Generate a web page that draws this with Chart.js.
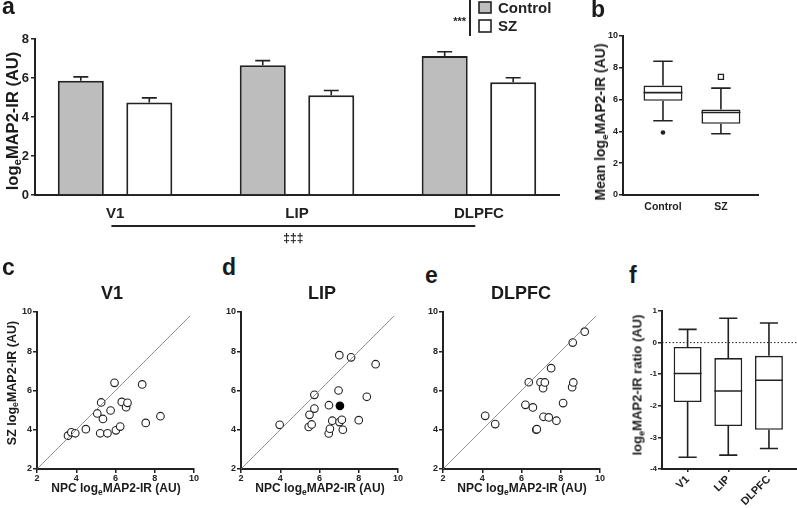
<!DOCTYPE html>
<html>
<head>
<meta charset="utf-8">
<script src="https://cdn.jsdelivr.net/npm/chart.js@4"></script>
<style>
body { margin: 0; background: #fff; }
#fig { position: relative; width: 797px; height: 508px; overflow: hidden; background: #fff;
  font-family: 'Liberation Sans', Arial, sans-serif; font-weight: bold; color: #1a1a1a; }
canvas { position: absolute; }
.t { position: absolute; white-space: nowrap; line-height: 1; transform: translate(-50%, -50%); }
.r { transform: translate(-50%, -50%) rotate(-90deg); }
.l { position: absolute; line-height: 1; font-size: 23px; }
sub { font-size: 70%; vertical-align: -0.3em; line-height: 0; }
</style>
</head>
<body>
<div id="fig">
  <canvas id="chartA"></canvas>
  <canvas id="chartB"></canvas>
  <canvas id="chartC"></canvas>
  <canvas id="chartD"></canvas>
  <canvas id="chartE"></canvas>
  <canvas id="chartF"></canvas>

  <div class="l" style="left:2px;top:-5px">a</div>
  <div class="l" style="left:591px;top:-2px">b</div>
  <div class="l" style="left:2px;top:256px">c</div>
  <div class="l" style="left:222px;top:256px">d</div>
  <div class="l" style="left:425px;top:264px">e</div>
  <div class="l" style="left:629px;top:264px">f</div>

  <div class="t r" style="left:12px;top:121px;font-size:16.5px">log<sub>e</sub>MAP2-IR (AU)</div>
  <div class="t r" style="left:600px;top:122px;font-size:14px">Mean log<sub>e</sub>MAP2-IR (AU)</div>

  <div class="t" style="left:112px;top:293px;font-size:18px">V1</div>
  <div class="t" style="left:322px;top:293px;font-size:18px">LIP</div>
  <div class="t" style="left:521px;top:293px;font-size:18px">DLPFC</div>

  <div class="t r" style="left:12px;top:383px;font-size:12.5px">SZ log<sub>e</sub>MAP2-IR (AU)</div>
  <div class="t" style="left:116px;top:488px;font-size:12px">NPC log<sub>e</sub>MAP2-IR (AU)</div>
  <div class="t" style="left:320px;top:488px;font-size:12px">NPC log<sub>e</sub>MAP2-IR (AU)</div>
  <div class="t" style="left:522px;top:488px;font-size:12px">NPC log<sub>e</sub>MAP2-IR (AU)</div>

  <div class="t r" style="left:637px;top:385px;font-size:13px">log<sub>e</sub>MAP2-IR ratio (AU)</div>
</div>

<script>
'use strict';

// panel a: mean +/- SEM per region
let regions = ['V1', 'LIP', 'DLPFC'];
let controlMean = [5.86, 6.66, 7.13];
let controlSem = [0.20, 0.23, 0.22];
let szMean = [4.75, 5.12, 5.78];
let szSem = [0.23, 0.24, 0.23];
let yTicksA = [0, 2, 4, 6, 8];

// panel b: box plot of mean values
let groupsB = ['Control', 'SZ'];
let bMax = [8.41, 6.72];
let bQ3 = [6.88, 5.38];
let bMed = [6.44, 5.19];
let bQ1 = [5.92, 4.48];
let bMin = [4.67, 3.85];
let bOutlierControl = [3.93];
let bOutlierSz = [7.43];
let yTicksB = [0, 2, 4, 6, 8, 10];

// panels c-e: NPC vs SZ pairs
let v1Npc = [3.58, 3.75, 3.95, 4.49, 5.07, 5.22, 5.27, 5.36, 5.59, 5.75, 5.95, 6.02, 6.24, 6.32, 6.54, 6.61, 7.36, 7.54, 8.29];
let v1Sz = [3.70, 3.87, 3.82, 4.03, 4.83, 3.82, 5.39, 4.55, 3.82, 4.98, 6.39, 3.97, 4.16, 5.42, 5.15, 5.37, 6.31, 4.35, 4.69];
let lipNpc = [3.97, 5.45, 5.49, 5.60, 5.74, 5.74, 6.47, 6.53, 6.48, 6.65, 6.97, 7.01, 7.02, 7.14, 7.19, 7.61, 8.00, 8.41, 8.86];
let lipSz = [4.25, 4.14, 4.76, 4.27, 5.08, 5.78, 3.81, 4.05, 5.25, 4.46, 6.00, 7.80, 4.39, 4.51, 4.00, 7.69, 4.49, 5.68, 7.34];
let lipFilledNpc = [7.04];
let lipFilledSz = [5.22];
let dlpfcNpc = [4.15, 4.66, 6.20, 6.37, 6.58, 6.75, 6.78, 6.97, 7.10, 7.19, 7.12, 7.39, 7.51, 7.78, 8.12, 8.58, 8.64, 8.61, 9.22];
let dlpfcSz = [4.71, 4.29, 5.27, 6.42, 5.14, 4.00, 4.03, 6.42, 6.12, 6.41, 4.66, 4.63, 7.14, 4.46, 5.36, 6.17, 6.41, 8.44, 9.00];
let scatterTicks = [2, 4, 6, 8, 10];
let identityLine = [2, 9.8];

// panel f: SZ/NPC ratio box plots
let fMax = [0.42, 0.77, 0.62];
let fQ3 = [-0.14, -0.49, -0.42];
let fMed = [-0.98, -1.53, -1.19];
let fQ1 = [-1.88, -2.64, -2.76];
let fMin = [-3.63, -3.56, -3.35];
let yTicksF = [1, 0, -1, -2, -3, -4];

const ink = '#222';
Chart.defaults.animation = false;
Chart.defaults.font.family = "'Liberation Sans', Arial, sans-serif";
Chart.defaults.font.weight = 'bold';
Chart.defaults.color = ink;
Chart.defaults.plugins.legend.display = false;
Chart.defaults.plugins.tooltip.enabled = false;

function setup(id, area, m) {
  let cv = document.getElementById(id);
  let w = area.r - area.l + m.l + m.r;
  let h = area.b - area.t + m.t + m.b;
  cv.width = w;
  cv.height = h;
  cv.style.width = w + 'px';
  cv.style.height = h + 'px';
  cv.style.left = (area.l - m.l) + 'px';
  cv.style.top = (area.t - m.t) + 'px';
  return cv;
}

function fixedTicks(list) {
  return function (scale) {
    scale.ticks = list.map(v => ({ value: v }));
  };
}

function axis(extra) {
  return Object.assign({
    border: { color: ink, width: 2 },
    grid: { drawOnChartArea: false, drawTicks: true, tickLength: 4, color: ink, lineWidth: 1.5, offset: false },
    offset: false
  }, extra);
}

function boxWhiskers(maxArr, medArr, minArr, capFrac) {
  return {
    id: 'boxWhiskers',
    afterDatasetsDraw(chart) {
      let ctx = chart.ctx;
      let y = chart.scales.y;
      ctx.save();
      ctx.strokeStyle = ink;
      ctx.lineWidth = 1.6;
      chart.getDatasetMeta(0).data.forEach((box, i) => {
        let half = box.width / 2;
        let cap = half * capFrac;
        let top = Math.min(box.y, box.base);
        let bottom = Math.max(box.y, box.base);
        let yMax = y.getPixelForValue(maxArr[i]);
        let yMin = y.getPixelForValue(minArr[i]);
        let yMed = y.getPixelForValue(medArr[i]);
        ctx.beginPath();
        ctx.moveTo(box.x - half, yMed); ctx.lineTo(box.x + half, yMed);
        ctx.moveTo(box.x, top); ctx.lineTo(box.x, yMax);
        ctx.moveTo(box.x - cap, yMax); ctx.lineTo(box.x + cap, yMax);
        ctx.moveTo(box.x, bottom); ctx.lineTo(box.x, yMin);
        ctx.moveTo(box.x - cap, yMin); ctx.lineTo(box.x + cap, yMin);
        ctx.stroke();
      });
      ctx.restore();
    }
  };
}

// ---------- panel a ----------
let areaA = { l: 35, t: 39, r: 559, b: 195 };
let mA = { l: 35, t: 39, r: 40, b: 55 };
setup('chartA', areaA, mA);

const errorBars = {
  id: 'errorBars',
  afterDatasetsDraw(chart) {
    let ctx = chart.ctx;
    let y = chart.scales.y;
    ctx.save();
    ctx.strokeStyle = ink;
    ctx.lineWidth = 1.6;
    [[controlMean, controlSem], [szMean, szSem]].forEach((pair, d) => {
      chart.getDatasetMeta(d).data.forEach((bar, i) => {
        let top = y.getPixelForValue(pair[0][i] + pair[1][i]);
        ctx.beginPath();
        ctx.moveTo(bar.x, bar.y);
        ctx.lineTo(bar.x, top);
        ctx.moveTo(bar.x - 7.5, top);
        ctx.lineTo(bar.x + 7.5, top);
        ctx.stroke();
      });
    });
    ctx.restore();
  }
};

const legendA = {
  id: 'legendA',
  afterDraw(chart) {
    let ctx = chart.ctx;
    let x = chart.scales.x;
    ctx.save();
    ctx.strokeStyle = ink;
    ctx.fillStyle = ink;
    // significance bracket + legend
    ctx.lineWidth = 2;
    ctx.beginPath(); ctx.moveTo(470, 0); ctx.lineTo(470, 36); ctx.stroke();
    ctx.lineWidth = 1.6;
    ctx.fillStyle = '#bdbdbd';
    ctx.fillRect(479, 2, 12, 11);
    ctx.strokeRect(479, 2, 12, 11);
    ctx.fillStyle = '#fff';
    ctx.fillRect(479, 20, 12, 12);
    ctx.strokeRect(479, 20, 12, 12);
    ctx.fillStyle = ink;
    ctx.font = "bold 15px 'Liberation Sans', Arial, sans-serif";
    ctx.textBaseline = 'middle';
    ctx.textAlign = 'left';
    ctx.fillText('Control', 498, 9);
    ctx.fillText('SZ', 498, 27);
    ctx.font = "bold 11px 'Liberation Sans', Arial, sans-serif";
    ctx.textAlign = 'right';
    ctx.fillText('***', 466, 22);
    // region effect line
    ctx.lineWidth = 2;
    ctx.beginPath();
    ctx.moveTo(x.getPixelForValue(-0.02), 226);
    ctx.lineTo(x.getPixelForValue(1.98), 226);
    ctx.stroke();
    ctx.textAlign = 'center';
    ctx.font = "bold 12px 'Liberation Sans', Arial, sans-serif";
    ctx.fillText('\u2021\u2021\u2021', (x.getPixelForValue(-0.02) + x.getPixelForValue(1.98)) / 2, 239);
    ctx.restore();
  }
};

new Chart(document.getElementById('chartA'), {
  type: 'bar',
  data: {
    datasets: [
      {
        label: 'Control',
        data: controlMean.map((v, i) => ({ x: i, y: v })),
        backgroundColor: '#bdbdbd',
        borderColor: ink,
        borderWidth: 2,
        categoryPercentage: 0.753,
        barPercentage: 0.672
      },
      {
        label: 'SZ',
        data: szMean.map((v, i) => ({ x: i, y: v })),
        backgroundColor: '#fff',
        borderColor: ink,
        borderWidth: 2,
        categoryPercentage: 0.753,
        barPercentage: 0.672
      }
    ]
  },
  options: {
    responsive: false,
    devicePixelRatio: 1,
    layout: { padding: { left: 0, top: mA.t, right: mA.r, bottom: 0 } },
    scales: {
      x: axis({
        type: 'linear',
        min: -0.44,
        max: 2.44,
        grid: { drawOnChartArea: false, drawTicks: false, offset: false },
        afterBuildTicks: fixedTicks([0, 1, 2]),
        afterFit: s => { s.height = mA.b; },
        ticks: { callback: v => regions[v], font: { size: 15 }, padding: 10, maxRotation: 0, autoSkip: false }
      }),
      y: axis({
        min: 0,
        max: 8,
        afterBuildTicks: fixedTicks(yTicksA),
        afterFit: s => { s.width = mA.l; },
        ticks: { font: { size: 13 }, padding: 2 }
      })
    }
  },
  plugins: [errorBars, legendA]
});

// ---------- panel b ----------
let areaB = { l: 623, t: 36, r: 758, b: 195 };
let mB = { l: 30, t: 12, r: 15, b: 30 };
setup('chartB', areaB, mB);

new Chart(document.getElementById('chartB'), {
  type: 'bar',
  data: {
    datasets: [
      {
        data: bQ1.map((v, i) => ({ x: i, y: [v, bQ3[i]] })),
        backgroundColor: '#fff',
        borderColor: ink,
        borderWidth: 1.6,
        borderSkipped: false,
        categoryPercentage: 1,
        barPercentage: 0.672
      },
      {
        type: 'scatter',
        data: bOutlierControl.map(v => ({ x: 0, y: v })),
        pointRadius: 2.3,
        pointBackgroundColor: ink,
        pointBorderColor: ink,
        pointBorderWidth: 0
      },
      {
        type: 'scatter',
        data: bOutlierSz.map(v => ({ x: 1, y: v })),
        pointStyle: 'rect',
        pointRadius: 3.6,
        pointBackgroundColor: '#fff',
        pointBorderColor: ink,
        pointBorderWidth: 1.3
      }
    ]
  },
  options: {
    responsive: false,
    devicePixelRatio: 1,
    layout: { padding: { left: 0, top: mB.t, right: mB.r, bottom: 0 } },
    scales: {
      x: axis({
        type: 'linear',
        min: -0.69,
        max: 1.64,
        grid: { drawOnChartArea: false, drawTicks: false, offset: false },
        afterBuildTicks: fixedTicks([0, 1]),
        afterFit: s => { s.height = mB.b; },
        ticks: { callback: v => groupsB[v], font: { size: 10.5 }, padding: 6, maxRotation: 0, autoSkip: false }
      }),
      y: axis({
        min: 0,
        max: 10,
        afterBuildTicks: fixedTicks(yTicksB),
        afterFit: s => { s.width = mB.l; },
        ticks: { font: { size: 9 }, padding: 1 }
      })
    }
  },
  plugins: [boxWhiskers(bMax, bMed, bMin, 0.5)]
});

// ---------- panels c, d, e ----------
function scatterPanel(id, area, npc, sz, extra) {
  let m = { l: 30, t: 10, r: 10, b: 18 };
  setup(id, area, m);
  let datasets = [
    {
      type: 'line',
      data: identityLine.map(v => ({ x: v, y: v })),
      borderColor: '#777',
      borderWidth: 0.8,
      pointRadius: 0
    },
    {
      type: 'scatter',
      data: npc.map((v, i) => ({ x: v, y: sz[i] })),
      pointRadius: 3.8,
      pointBackgroundColor: '#fff',
      pointBorderColor: ink,
      pointBorderWidth: 1.1
    }
  ];
  if (extra) datasets.push(extra);
  new Chart(document.getElementById(id), {
    type: 'scatter',
    data: { datasets: datasets },
    options: {
      responsive: false,
      devicePixelRatio: 1,
      layout: { padding: { left: 0, top: m.t, right: m.r, bottom: 0 } },
      scales: {
        x: axis({
          type: 'linear',
          min: 2,
          max: 10,
          afterBuildTicks: fixedTicks(scatterTicks),
          afterFit: s => { s.height = m.b; },
          ticks: { font: { size: 9 }, padding: 0, maxRotation: 0, autoSkip: false }
        }),
        y: axis({
          min: 2,
          max: 10,
          afterBuildTicks: fixedTicks(scatterTicks),
          afterFit: s => { s.width = m.l; },
          ticks: { font: { size: 9 }, padding: 1 }
        })
      }
    }
  });
}

scatterPanel('chartC', { l: 37, t: 312, r: 194, b: 469 }, v1Npc, v1Sz);
scatterPanel('chartD', { l: 241, t: 312, r: 398, b: 469 }, lipNpc, lipSz, {
  type: 'scatter',
  data: lipFilledNpc.map((v, i) => ({ x: v, y: lipFilledSz[i] })),
  pointRadius: 3.8,
  pointBackgroundColor: '#000',
  pointBorderColor: '#000',
  pointBorderWidth: 1.1
});
scatterPanel('chartE', { l: 443, t: 312, r: 600, b: 469 }, dlpfcNpc, dlpfcSz);

// ---------- panel f ----------
let areaF = { l: 662, t: 311, r: 797, b: 469 };
let mF = { l: 25, t: 10, r: 0, b: 39 };
setup('chartF', areaF, mF);

new Chart(document.getElementById('chartF'), {
  type: 'bar',
  data: {
    datasets: [
      {
        data: fQ1.map((v, i) => ({ x: i, y: [v, fQ3[i]] })),
        backgroundColor: '#fff',
        borderColor: ink,
        borderWidth: 1.6,
        borderSkipped: false,
        categoryPercentage: 1,
        barPercentage: 0.687
      },
      {
        type: 'line',
        data: [{ x: -0.63, y: 0 }, { x: 2.69, y: 0 }],
        borderColor: ink,
        borderWidth: 1,
        borderDash: [1.5, 2],
        pointRadius: 0
      }
    ]
  },
  options: {
    responsive: false,
    devicePixelRatio: 1,
    layout: { padding: { left: 0, top: mF.t, right: mF.r, bottom: 0 } },
    scales: {
      x: axis({
        type: 'linear',
        min: -0.63,
        max: 2.69,
        grid: { drawOnChartArea: false, drawTicks: true, tickLength: 3, color: ink, lineWidth: 1.5, offset: false },
        afterBuildTicks: fixedTicks([0, 1, 2]),
        afterFit: s => { s.height = mF.b; },
        ticks: { callback: v => regions[v], font: { size: 11 }, padding: 1, minRotation: 45, maxRotation: 45, autoSkip: false }
      }),
      y: axis({
        min: -4,
        max: 1,
        afterBuildTicks: fixedTicks(yTicksF),
        afterFit: s => { s.width = mF.l; },
        ticks: { font: { size: 8 }, padding: 1 }
      })
    }
  },
  plugins: [boxWhiskers(fMax, fMed, fMin, 0.65)]
});
</script>
</body>
</html>
